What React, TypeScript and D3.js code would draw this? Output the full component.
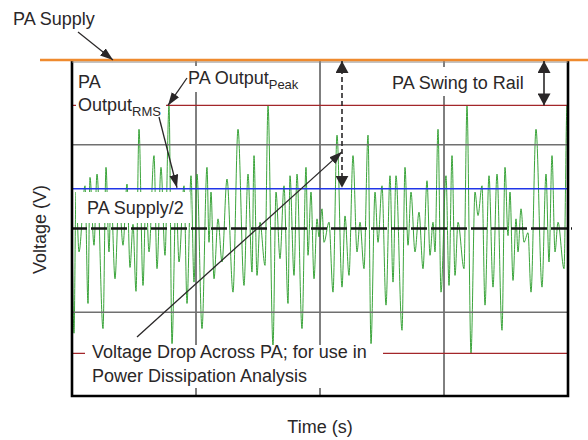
import React, { useEffect, useRef } from 'react';
import * as d3 from 'd3';

// PA output trace, [time (us), voltage (V)], one array per time division
const trace1: [number, number][] = [
    [0, 0.2], [2, -2.5], [4, 0.87], [7, -0.56], [13, 1.02], [16, -1.79], [18, 1.22], [22, -0.4],
    [25, 1.3], [31, -2.39], [34, 1.46], [37, -0.56], [39, 0.87], [43, -1.2], [47, 0.79], [51, -0.4],
    [55, 1.06], [58, -0.93], [61, 0.1], [64, -1.5], [67, 2.37], [71, -1.36], [74, 0.87], [77, -0.56],
    [82, 1.74], [85, -0.96], [89, 1.46], [93, -0.64], [97, 2.93], [100, -2.75], [104, 0.83], [107, -0.8],
    [112, 1.02], [115, -1.79], [119, 1.26], [122, -1.28],
];
const trace2: [number, number][] = [
    [125, 1.3], [130, -2.39], [135, 1.46], [137, -0.33], [139, 0.87], [142, -1.2], [146, 0.23], [150, -0.8],
    [155, 1.18], [161, -1.52], [166, 2.37], [172, -1.36], [176, 1.3], [180, -1.04], [182, 1.74], [185, -1.12],
    [188, 0.15], [193, -0.88], [196, 2.93], [201, -2.79], [204, 0.87], [208, -0.72], [212, 1.02], [216, -1.79],
    [218, 1.26], [222, -1.12], [225, 1.3], [230, -2.39], [234, 1.46], [236, -0.64], [239, 0.87], [242, -1.2],
    [245, 0.23], [247, -0.2],
];
const trace3: [number, number][] = [
    [250, 0.47], [252, -0.33], [257, 0.15], [261, -1.52], [265, 2.23], [270, -1.4], [273, 0.3], [277, -1.12],
    [281, 1.74], [285, -0.56], [288, 0.15], [292, -0.96], [296, 2.23], [299, -2.75], [303, 0.87], [306, -0.33],
    [310, 1.02], [314, -1.83], [318, 1.26], [321, -1.28], [324, 1.26], [330, -2.43], [333, 1.46], [336, -0.4],
    [339, 0.87], [343, -0.56], [347, 0.39], [351, -0.96], [355, 1.14], [358, -0.64], [361, 0.15], [363, -0.56],
    [366, 2.37], [369, -1.52],
];
const trace4: [number, number][] = [
    [374, 1.26], [377, -1.36], [380, 1.74], [383, -1.12], [386, 0.15], [392, -0.96], [395, 2.93], [399, -2.98],
    [403, 0.87], [406, 0.31], [410, 1.02], [413, -1.83], [417, 1.26], [421, -1.4], [425, 1.3], [430, -2.43],
    [433, 1.46], [436, -0.17], [438, 0.87], [441, -1.24], [444, 0.23], [446, -0.56], [449, 0.47], [452, -0.33],
    [456, -0.1], [459, -1.52], [464, 2.37], [470, -1.4], [474, 1.3], [477, -0.8], [480, 1.74], [483, -0.56],
    [486, 0.15], [492, -0.96], [495, 2.93], [496, 2.6],
];

const timeSpan = [0, 496];
const timeGrid = [124, 248, 372];
const supplyV = 4;
const rmsV = 0.95;
const peakV = [2.94, -2.98];
const gridV = [-2, 2];

const PASwingChart: React.FC = () => {
    const svgRef = useRef<SVGSVGElement>(null);

    useEffect(() => {
        if (!svgRef.current) return;

        const left = 72;
        const right = 568;
        const top = 61;
        const bottom = 396;
        const font = "'Liberation Sans', Arial, Helvetica, sans-serif";
        const ink = '#2a2728';

        const svg = d3.select(svgRef.current);
        svg.selectAll('*').remove();

        const x = d3.scaleLinear().domain(timeSpan).range([left, right]);
        const y = d3.scaleLinear().domain([-supplyV, supplyV]).range([bottom, top]);

        const defs = svg.append('defs');
        const addHead = (id: string, len: number, wid: number) => {
            defs.append('marker')
                .attr('id', id)
                .attr('viewBox', `0 0 ${len} ${wid}`)
                .attr('refX', len)
                .attr('refY', wid / 2)
                .attr('markerWidth', len)
                .attr('markerHeight', wid)
                .attr('markerUnits', 'userSpaceOnUse')
                .attr('orient', 'auto-start-reverse')
                .append('path')
                .attr('d', `M0,0L${len},${wid / 2}L0,${wid}Z`)
                .attr('fill', ink);
        };
        addHead('head', 13, 9);
        addHead('headBig', 12, 13);

        // vertical divisions
        svg.append('g')
            .selectAll('line')
            .data(timeGrid)
            .join('line')
            .attr('x1', d => x(d))
            .attr('x2', d => x(d))
            .attr('y1', top)
            .attr('y2', bottom)
            .attr('stroke', '#000')
            .attr('stroke-width', 1);

        // the signal
        const trace = [...trace1, ...trace2, ...trace3, ...trace4];
        const line = d3.line<[number, number]>()
            .x(d => x(d[0]))
            .y(d => y(d[1]))
            .curve(d3.curveMonotoneX);

        svg.append('path')
            .datum(trace)
            .attr('d', line)
            .attr('fill', 'none')
            .attr('stroke', '#259a25')
            .attr('stroke-width', 0.9);

        const hLines = (vals: number[], color: string, w: number) => {
            svg.append('g')
                .selectAll('line')
                .data(vals)
                .join('line')
                .attr('x1', left)
                .attr('x2', right)
                .attr('y1', d => y(d))
                .attr('y2', d => y(d))
                .attr('stroke', color)
                .attr('stroke-width', w);
        };
        hLines(gridV, '#707070', 1.3);
        hLines(peakV, '#a3262a', 1.3);
        hLines([rmsV], '#2136e8', 1.5);

        // PA supply / 2
        svg.append('line')
            .attr('x1', left - 1)
            .attr('x2', right + 4)
            .attr('y1', y(0))
            .attr('y2', y(0))
            .attr('stroke', '#151515')
            .attr('stroke-width', 2.6)
            .attr('stroke-dasharray', '16,4');

        // white boxes behind the labels
        const boxes = [
            [76, 68, 90, 53],
            [184, 66, 122, 26],
            [388, 67, 145, 29],
            [76, 192, 114, 31],
            [85, 345, 298, 43],
        ];
        svg.append('g')
            .selectAll('rect')
            .data(boxes)
            .join('rect')
            .attr('x', d => d[0])
            .attr('y', d => d[1])
            .attr('width', d => d[2])
            .attr('height', d => d[3])
            .attr('fill', '#fff');

        // frame
        svg.append('path')
            .attr('d', `M${left},${top}V${bottom}H${right}V${top}`)
            .attr('fill', 'none')
            .attr('stroke', '#000')
            .attr('stroke-width', 2.6);
        svg.append('line')
            .attr('x1', left)
            .attr('x2', right)
            .attr('y1', top + 1)
            .attr('y2', top + 1)
            .attr('stroke', '#888')
            .attr('stroke-width', 1);

        // PA supply rail
        svg.append('line')
            .attr('x1', 40)
            .attr('x2', 588)
            .attr('y1', y(supplyV) - 1)
            .attr('y2', y(supplyV) - 1)
            .attr('stroke', '#ef8a2e')
            .attr('stroke-width', 2.6);

        const label = (tx: number, ty: number, s: string, sub?: string) => {
            const t = svg.append('text')
                .attr('x', tx)
                .attr('y', ty)
                .style('font-family', font)
                .style('font-size', '18px')
                .attr('fill', ink)
                .text(s);
            if (sub) {
                t.append('tspan')
                    .attr('dy', 4.5)
                    .style('font-size', '13px')
                    .text(sub);
            }
        };
        label(13, 25, 'PA Supply');
        label(188, 84, 'PA Output', 'Peak');
        label(78, 88, 'PA');
        label(78, 111, 'Output', 'RMS');
        label(87, 214, 'PA Supply/2');
        label(392, 89, 'PA Swing to Rail');
        label(92, 358, 'Voltage Drop Across PA; for use in');
        label(92, 382, 'Power Dissipation Analysis');

        svg.append('text')
            .attr('x', (left + right) / 2)
            .attr('y', 433)
            .attr('text-anchor', 'middle')
            .style('font-family', font)
            .style('font-size', '18px')
            .attr('fill', ink)
            .text('Time (s)');

        svg.append('text')
            .attr('transform', `translate(46, ${(top + bottom) / 2 + 1}) rotate(-90)`)
            .attr('text-anchor', 'middle')
            .style('font-family', font)
            .style('font-size', '18px')
            .attr('fill', ink)
            .text('Voltage (V)');

        // callout arrows
        const arrow = (x1: number, y1: number, x2: number, y2: number, opts: { both?: boolean; dash?: string; big?: boolean } = {}) => {
            const head = opts.big ? 'url(#headBig)' : 'url(#head)';
            svg.append('line')
                .attr('x1', x1)
                .attr('y1', y1)
                .attr('x2', x2)
                .attr('y2', y2)
                .attr('stroke', ink)
                .attr('stroke-width', opts.big ? 1.6 : 1.3)
                .attr('stroke-dasharray', opts.dash ?? null)
                .attr('marker-end', head)
                .attr('marker-start', opts.both ? head : null);
        };
        arrow(78, 32, x(41), y(supplyV) - 1);
        arrow(187, 78, x(96), y(peakV[0]));
        arrow(159, 117, x(105), y(rmsV) - 1);
        arrow(x(270), y(supplyV), x(270), y(rmsV) - 1, { both: true, dash: '5,3', big: true });
        arrow(x(472), y(supplyV), x(472), y(peakV[0]), { both: true, big: true });
        arrow(x(65), y(-2.59), x(270), y(1.83));
    }, []);

    return (
        <svg
            ref={svgRef}
            width={588}
            height={440}
            style={{ position: 'absolute', left: 0, top: 0, background: '#fff' }}
        ></svg>
    );
};

export default PASwingChart;
